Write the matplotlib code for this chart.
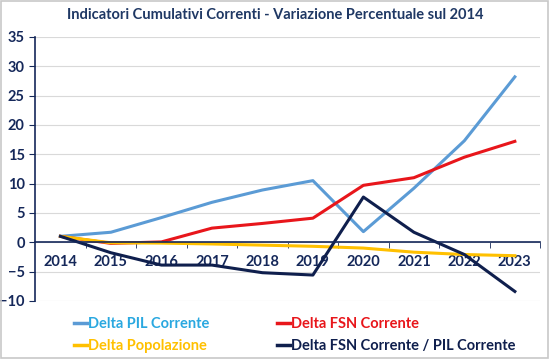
import matplotlib
matplotlib.use("Agg")
import matplotlib.pyplot as plt
import numpy as np
from matplotlib.patches import Rectangle
from matplotlib.lines import Line2D

years = ["2014", "2015", "2016", "2017", "2018", "2019", "2020", "2021", "2022", "2023"]
pil = [1.0, 1.7, 4.2, 6.8, 8.9, 10.5, 1.8, 9.2, 17.3, 28.2]
fsn = [1.0, -0.2, 0.05, 2.4, 3.2, 4.1, 9.7, 11.0, 14.5, 17.2]
popolazione = [1.0, -0.1, -0.15, -0.3, -0.5, -0.7, -1.0, -1.7, -2.1, -2.3]
rapporto = [1.0, -1.8, -3.9, -3.9, -5.2, -5.6, 7.7, 1.7, -2.1, -8.4]

navy = "#15285a"
c_pil, c_fsn, c_pop, c_rap = "#5b9bd5", "#e8161b", "#ffc000", "#0f1f4d"

plt.rcParams["font.family"] = ["Lato", "DejaVu Sans"]

fig = plt.figure(figsize=(5.5, 3.59), dpi=100)
ax = fig.add_axes([0.064, 0.162, 0.918, 0.735])
x = np.arange(len(years))

ax.plot(x, pil, color=c_pil, lw=2.2, label="Delta PIL Corrente")
ax.plot(x, fsn, color=c_fsn, lw=2.2, label="Delta FSN Corrente")
ax.plot(x, popolazione, color=c_pop, lw=2.2, label="Delta Popolazione")
ax.plot(x, rapporto, color=c_rap, lw=2.2, label="Delta FSN Corrente / PIL Corrente")

ax.set_xlim(-0.5, len(years) - 0.5)
ax.set_ylim(-10, 35)
ax.set_yticks(np.arange(-10, 36, 5))
ax.grid(axis="y", color="#d9d9d9", lw=0.8)
ax.set_axisbelow(True)

for s in ["top", "right"]:
    ax.spines[s].set_visible(False)
ax.spines["left"].set_color(navy)
ax.spines["left"].set_linewidth(1.2)
ax.spines["bottom"].set_position(("data", 0))
ax.spines["bottom"].set_color(navy)
ax.spines["bottom"].set_linewidth(1.2)

ax.set_xticks(x)
ax.set_xticklabels(years)
ax.set_xticks(np.arange(0.5, len(years), 1), minor=True)
ax.tick_params(axis="x", which="major", length=0, pad=9, labelsize=10.5, labelcolor=navy)
ax.tick_params(axis="x", which="minor", length=4, color=navy, direction="out")
ax.tick_params(axis="y", length=4, color=navy, labelsize=10.5, labelcolor=navy)
for t in ax.get_xticklabels() + ax.get_yticklabels():
    t.set_fontweight("bold")

fig.suptitle("Indicatori Cumulativi Correnti - Variazione Percentuale sul 2014",
             x=0.5, y=0.978, fontsize=10.5, fontweight="bold", color="#1f3864")

handles = [Line2D([], [], color=c, lw=2.5) for c in [c_pil, c_pop, c_fsn, c_rap]]
labels = ["Delta PIL Corrente", "Delta Popolazione", "Delta FSN Corrente",
          "Delta FSN Corrente / PIL Corrente"]
leg = fig.legend(handles, labels, ncol=2, loc="lower left", bbox_to_anchor=(0.11, -0.02),
                 frameon=False, handlelength=0.9, handletextpad=0.1, columnspacing=4.6,
                 labelspacing=0.55, prop={"size": 10.5, "weight": "bold"})
for t, c in zip(leg.get_texts(), ["#2aa8e0", c_pop, c_fsn, c_rap]):
    t.set_color(c)

fig.patches.append(Rectangle((0.002, 0.003), 0.995, 0.993, transform=fig.transFigure,
                             fill=False, edgecolor="#c8c8c8", lw=1.2))

fig.savefig("out.png", dpi=100)
